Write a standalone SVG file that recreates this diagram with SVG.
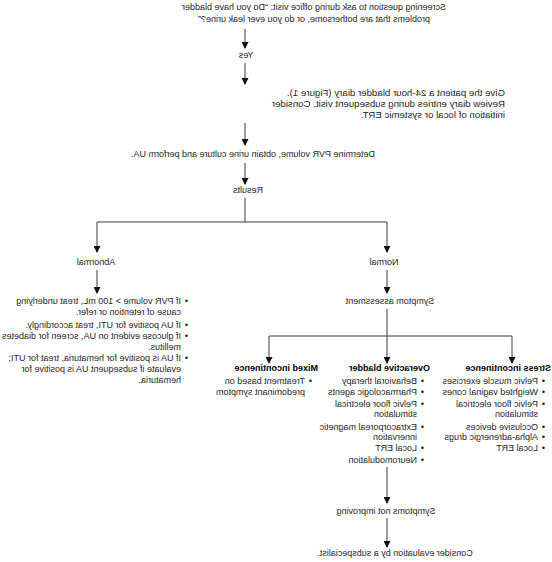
<svg xmlns="http://www.w3.org/2000/svg" width="552" height="562" viewBox="0 0 552 562">
<style>
.t{font-family:"Liberation Sans",Arial,Helvetica,sans-serif;font-size:9px;fill:#1e1e1e}
.c{text-anchor:middle}
.b{font-weight:bold;fill:#000}
.m{font-size:9.7px}
.ln{stroke:#3a3a3a;stroke-width:1;fill:none}
.ar{stroke:#3a3a3a;stroke-width:1;fill:none;marker-end:url(#ah)}
</style>
<defs>
<marker id="ah" markerUnits="userSpaceOnUse" markerWidth="7" markerHeight="8" refX="6" refY="3.5" orient="auto">
<path d="M0,0 L7,3.5 L0,7 z" fill="#111"/>
</marker>
</defs>
<rect width="552" height="562" fill="#fff"/>
<g transform="matrix(-1 0 0 1 552 0)">
<g id="connectors">
<line class="ar" x1="307" y1="29" x2="307" y2="48"/>
<line class="ar" x1="307" y1="63" x2="307" y2="84"/>
<line class="ar" x1="307" y1="123" x2="307" y2="145"/>
<line class="ar" x1="307" y1="163" x2="307" y2="184"/>
<path class="ln" d="M307,198 V222 M165,222 H455"/>
<line class="ar" x1="455" y1="222" x2="455" y2="252"/>
<line class="ar" x1="165" y1="222" x2="165" y2="252"/>
<line class="ar" x1="455" y1="270" x2="455" y2="293"/>
<line class="ar" x1="165" y1="270" x2="165" y2="293"/>
<line class="ar" x1="165" y1="309" x2="165" y2="363"/>
<path class="ln" d="M40,336 H283"/>
<line class="ar" x1="40" y1="336" x2="40" y2="363"/>
<line class="ar" x1="283" y1="336" x2="283" y2="363"/>
<line class="ar" x1="165" y1="467" x2="165" y2="503"/>
<line class="ar" x1="165" y1="518" x2="165" y2="547"/>
</g>
<g id="screening">
<text class="t c" x="238" y="10">Screening question to ask during office visit: “Do you have bladder</text>
<text class="t c" x="238" y="22">problems that are bothersome, or do you ever leak urine?”</text>
</g>
<g id="yes"><text class="t c" x="306" y="58">Yes</text></g>
<g id="diary">
<text class="t m" x="47" y="96">Give the patient a 24-hour bladder diary (Figure 1).</text>
<text class="t m" x="47" y="107">Review diary entries during subsequent visit. Consider</text>
<text class="t m" x="47" y="118">initiation of local or systemic ERT.</text>
</g>
<g id="determine"><text class="t" x="177" y="157">Determine PVR volume, obtain urine culture and perform UA.</text></g>
<g id="results"><text class="t c" x="304" y="193">Results</text></g>
<g id="abnormal"><text class="t c" x="456" y="265">Abnormal</text></g>
<g id="normal"><text class="t c" x="168" y="265">Normal</text></g>
<g id="abnormal-list">
<text class="t" x="364" y="304">•</text><text class="t" x="371" y="304">If PVR volume &gt; 100 mL, treat underlying</text>
<text class="t" x="371" y="315">cause of retention or refer.</text>
<text class="t" x="364" y="328">•</text><text class="t" x="371" y="328">If UA positive for UTI, treat accordingly.</text>
<text class="t" x="364" y="339">•</text><text class="t" x="371" y="339">If glucose evident on UA, screen for diabetes</text>
<text class="t" x="371" y="350">mellitus.</text>
<text class="t" x="364" y="361">•</text><text class="t" x="371" y="361">If UA is positive for hematuria, treat for UTI;</text>
<text class="t" x="371" y="372">evaluate if subsequent UA is positive for</text>
<text class="t" x="371" y="383">hematuria.</text>
</g>
<g id="symptom-assessment"><text class="t c" x="162" y="304">Symptom assessment</text></g>
<g id="stress">
<text class="t b" x="1" y="371">Stress incontinence</text>
<text class="t" x="7" y="384">•</text><text class="t" x="14" y="384">Pelvic muscle exercises</text>
<text class="t" x="7" y="395">•</text><text class="t" x="14" y="395">Weighted vaginal cones</text>
<text class="t" x="7" y="407">•</text><text class="t" x="14" y="407">Pelvic floor electrical</text>
<text class="t" x="14" y="417">stimulation</text>
<text class="t" x="7" y="430">•</text><text class="t" x="14" y="430">Occlusive devices</text>
<text class="t" x="7" y="440">•</text><text class="t" x="14" y="440">Alpha-adrenergic drugs</text>
<text class="t" x="7" y="451">•</text><text class="t" x="14" y="451">Local ERT</text>
</g>
<g id="overactive">
<text class="t b" x="122" y="371">Overactive bladder</text>
<text class="t" x="128" y="384">•</text><text class="t" x="135" y="384">Behavioral therapy</text>
<text class="t" x="128" y="395">•</text><text class="t" x="135" y="395">Pharmacologic agents</text>
<text class="t" x="128" y="407">•</text><text class="t" x="135" y="407">Pelvic floor electrical</text>
<text class="t" x="135" y="417">stimulation</text>
<text class="t" x="128" y="430">•</text><text class="t" x="135" y="430">Extracorporeal magnetic</text>
<text class="t" x="135" y="440">innervation</text>
<text class="t" x="128" y="451">•</text><text class="t" x="135" y="451">Local ERT</text>
<text class="t" x="128" y="463">•</text><text class="t" x="135" y="463">Neuromodulation</text>
</g>
<g id="mixed">
<text class="t b" x="234" y="371">Mixed incontinence</text>
<text class="t" x="240" y="384">•</text><text class="t" x="247" y="384">Treatment based on</text>
<text class="t" x="247" y="395">predominant symptom</text>
</g>
<g id="not-improving"><text class="t c" x="166" y="514">Symptoms not improving</text></g>
<g id="subspecialist"><text class="t c" x="157" y="556">Consider evaluation by a subspecialist.</text></g>
</g>
</svg>
